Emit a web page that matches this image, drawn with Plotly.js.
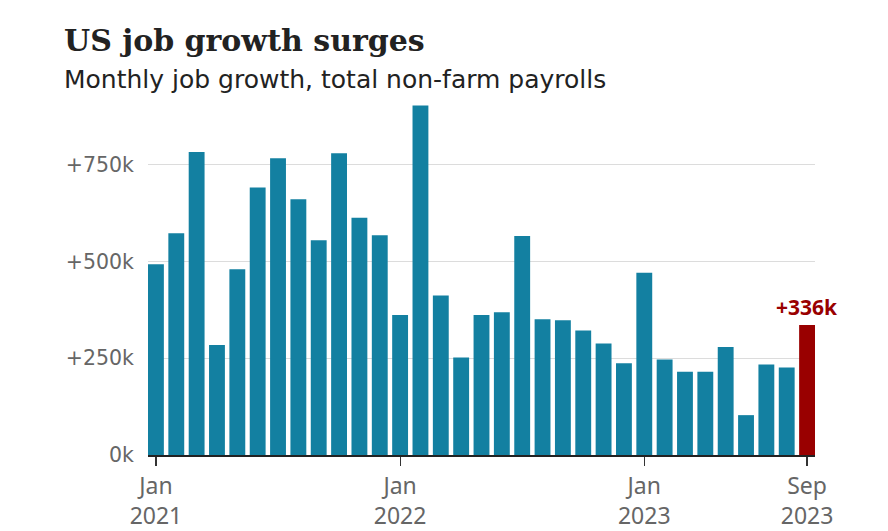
<!DOCTYPE html>
<html>
<head>
<meta charset="utf-8">
<script src="https://cdn.plot.ly/plotly-3.0.1.min.js"></script>
<style>html,body{margin:0;padding:0;background:#fff;}#chart{width:888px;height:531px;}</style>
</head>
<body>
<div id="chart"></div>
<script>
const months = ["Jan 2021","Feb 2021","Mar 2021","Apr 2021","May 2021","Jun 2021","Jul 2021","Aug 2021","Sep 2021","Oct 2021","Nov 2021","Dec 2021",
  "Jan 2022","Feb 2022","Mar 2022","Apr 2022","May 2022","Jun 2022","Jul 2022","Aug 2022","Sep 2022","Oct 2022","Nov 2022","Dec 2022",
  "Jan 2023","Feb 2023","Mar 2023","Apr 2023","May 2023","Jun 2023","Jul 2023","Aug 2023","Sep 2023"];
const jobs = [493,573,783,284,480,691,767,661,555,780,613,568,
  362,903,412,252,362,369,566,351,348,322,288,237,
  471,247,215,215,279,103,234,226,336];
const tickVals = ["Jan 2021","Jan 2022","Jan 2023","Sep 2023"];
const tickText = ["Jan<br>2021","Jan<br>2022","Jan<br>2023","Sep<br>2023"];
const yTickVals = [0,250,500,750];
const yTickText = ["0k","+250k","+500k","+750k"];
const highlightLabel = "+336k";
const titleText = "US job growth surges";
const subtitleText = "Monthly job growth, total non-farm payrolls";

const colors = months.map((m,i) => i === months.length-1 ? "#990000" : "#1380A1");

const trace = {
  type: "bar",
  x: months,
  y: jobs,
  marker: {color: colors, line: {width: 0}},
  hoverinfo: "x+y"
};

const layout = {
  width: 888, height: 531,
  margin: {l: 148, r: 73, t: 99, b: 76, pad: 0},
  paper_bgcolor: "#fff", plot_bgcolor: "#fff",
  bargap: 0.22,
  showlegend: false,
  font: {family: "Noto Sans, sans-serif", color: "#222"},
  xaxis: {
    type: "category",
    range: [-0.39, 32.39],
    tickvals: tickVals, ticktext: tickText,
    ticks: "outside", ticklen: 9, tickwidth: 1.2, tickcolor: "#333",
    showline: true, linecolor: "#222", linewidth: 2,
    showgrid: false, zeroline: false,
    tickfont: {family: "Noto Sans, sans-serif", size: 23, color: "#666"}
  },
  yaxis: {
    range: [0, 920],
    tickvals: yTickVals, ticktext: yTickText,
    showgrid: true, gridcolor: "#dcdcdc", gridwidth: 1,
    zeroline: false, showline: false, ticks: "",
    ticklabelstandoff: 13,
    tickfont: {family: "DejaVu Sans, sans-serif", size: 20.5, color: "#666"}
  },
  annotations: [
    {xref: "x", yref: "y", x: months[months.length-1], y: jobs[jobs.length-1],
     text: "<b>" + highlightLabel + "</b>", showarrow: false, yanchor: "bottom", yshift: 2,
     font: {family: "Noto Sans, sans-serif", size: 21, color: "#990000"}},
    {xref: "paper", yref: "paper", x: (62-148)/667, y: 1 + (99-40)/356, xanchor: "left", yanchor: "middle",
     text: "<b>" + titleText + "</b>", showarrow: false,
     font: {family: "DejaVu Serif, serif", size: 30, color: "#222"}},
    {xref: "paper", yref: "paper", x: (62-148)/667, y: 1 + (99-79)/356, xanchor: "left", yanchor: "middle",
     text: subtitleText, showarrow: false,
     font: {family: "DejaVu Sans, sans-serif", size: 25, color: "#222"}}
  ]
};

Plotly.newPlot("chart", [trace], layout, {displayModeBar: false, staticPlot: true});
</script>
</body>
</html>
